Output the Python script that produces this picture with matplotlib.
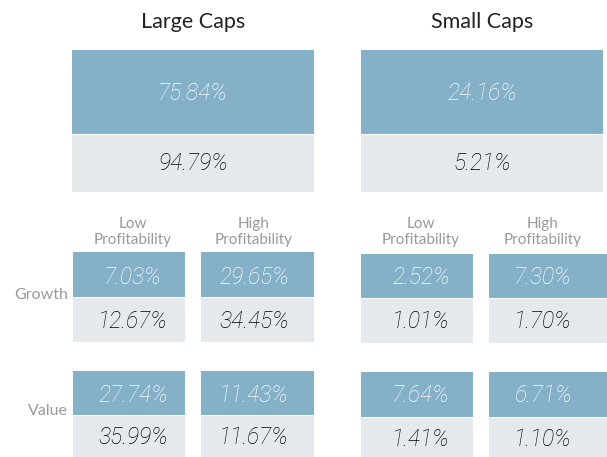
import matplotlib
matplotlib.use("Agg")
import matplotlib.pyplot as plt
from matplotlib.patches import Rectangle

# ---- data ----
groups = ["Large Caps", "Small Caps"]
total_top = [75.84, 24.16]
total_bottom = [94.79, 5.21]
profit_labels = ["Low\nProfitability", "High\nProfitability"]
style_labels = ["Growth", "Value"]
# [group][style][profitability]
cell_top = [[[7.03, 29.65], [27.74, 11.43]],
            [[2.52, 7.30], [7.64, 6.71]]]
cell_bottom = [[[12.67, 34.45], [35.99, 11.67]],
               [[1.01, 1.70], [1.41, 1.10]]]

BLUE = "#84B1C8"
GREY = "#E6E9EC"
LABEL = "#9A9A9A"
FONT = "Lato"
VFONT = "Roboto"

fig = plt.figure(figsize=(6.07, 4.57), dpi=100)
ax = fig.add_axes([0, 0, 1, 1])
ax.set_xlim(0, 607)
ax.set_ylim(457, 0)
ax.axis("off")

# layout (pixels)
big_x = [(72, 314), (361, 603)]
big_top_y = (50, 134)
big_bot_y = (135, 192)
cell_x = [[(73, 185), (201, 314)], [(361, 473), (489, 610)]]
text_x = [[133, 254], [421, 543]]
row_top_y = [[(252, 297), (371, 415)], [(254, 298), (372, 417)]]
row_bot_y = [[(298, 342), (416, 460)], [(299, 343), (418, 460)]]
text_top_y = [[277, 395], [278, 396]]
text_bot_y = [[321, 438], [322, 439]]

def box(x0, x1, y0, y1, color):
    ax.add_patch(Rectangle((x0, y0), x1 - x0, y1 - y0, facecolor=color,
                           edgecolor="none"))

def val(x, y, v, color):
    ax.text(x, y, f"{v:.2f}%", ha="center", va="center", color=color,
            fontsize=16.5, style="italic", fontweight="light", family=VFONT)

for g in range(2):
    x0, x1 = big_x[g]
    xc = (x0 + x1) / 2
    ax.text(xc, 22, groups[g], ha="center", va="center", fontsize=15.5,
            color="#222222", family=FONT, fontweight="normal")
    box(x0, x1, *big_top_y, BLUE)
    box(x0, x1, *big_bot_y, GREY)
    val(xc, 93, total_top[g], "white")
    val(xc, 164, total_bottom[g], "#000000")
    for p in range(2):
        cx0, cx1 = cell_x[g][p]
        tx = text_x[g][p]
        ax.text(tx, 232, profit_labels[p], ha="center", va="center",
                fontsize=11, color=LABEL, family=FONT, linespacing=1.2)
        for s in range(2):
            box(cx0, cx1, *row_top_y[g][s], BLUE)
            box(cx0, cx1, *row_bot_y[g][s], GREY)
            val(tx, text_top_y[g][s], cell_top[g][s][p], "white")
            val(tx, text_bot_y[g][s], cell_bottom[g][s][p], "#000000")

row_label_y = [295, 411]
for s in range(2):
    ax.text(68, row_label_y[s], style_labels[s], ha="right", va="center",
            fontsize=11.5, color=LABEL, family=FONT)

fig.savefig("out.png", dpi=100)
